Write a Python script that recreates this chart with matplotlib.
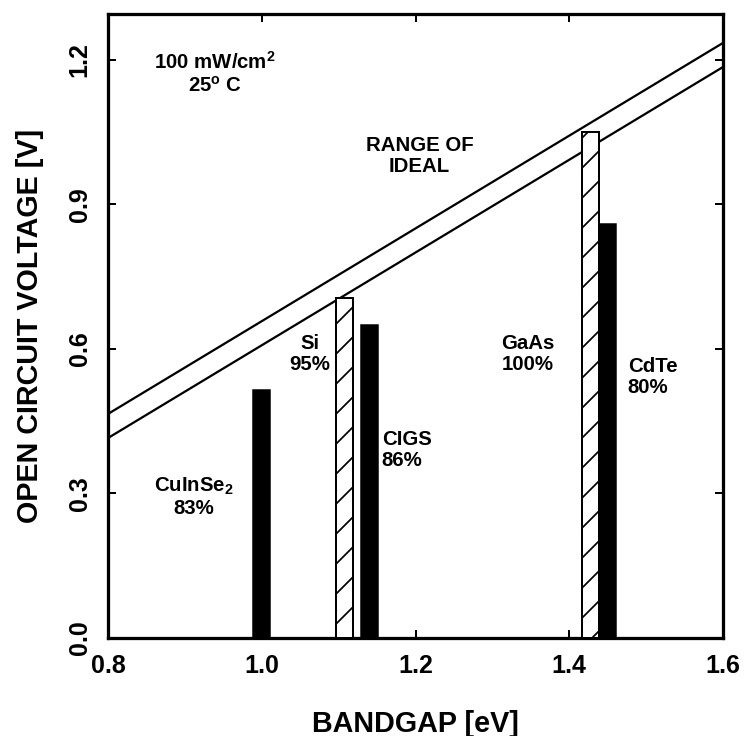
import matplotlib
matplotlib.use("Agg")
import matplotlib.pyplot as plt

# Measured open-circuit voltages of thin-film / crystalline cells
solid_names = ["CuInSe$_\\mathbf{2}$", "CIGS", "CdTe"]
solid_pct = ["83%", "86%", "80%"]
solid_gap = [1.00, 1.14, 1.45]
solid_voc = [0.515, 0.65, 0.86]

hatch_names = ["Si", "GaAs"]
hatch_pct = ["95%", "100%"]
hatch_gap = [1.108, 1.428]
hatch_voc = [0.705, 1.05]

# Ideal Voc range (upper and lower bounds), end points at 0.8 and 1.6 eV
ideal_gap = [0.8, 1.6]
ideal_upper = [0.465, 1.235]
ideal_lower = [0.415, 1.185]

x_ticks = [0.8, 1.0, 1.2, 1.4, 1.6]
y_ticks = [0.0, 0.3, 0.6, 0.9, 1.2]

plt.rcParams["font.family"] = ["Liberation Sans", "DejaVu Sans"]
plt.rcParams["font.weight"] = "bold"
plt.rcParams["mathtext.fontset"] = "custom"
plt.rcParams["mathtext.rm"] = "Liberation Sans:bold"
plt.rcParams["mathtext.bf"] = "Liberation Sans:bold"
plt.rcParams["mathtext.it"] = "Liberation Sans:bold"
plt.rcParams["hatch.linewidth"] = 1.4

DPI = 90
fig = plt.figure(figsize=(745 / DPI, 736 / DPI), dpi=DPI)
ax = fig.add_axes([108 / 745, 1 - 638 / 736, (723 - 108) / 745, (638 - 14) / 736])

bar_w = 0.022
ax.bar(solid_gap, solid_voc, width=bar_w, color="black", edgecolor="black",
       linewidth=1.2, zorder=3)
ax.bar(hatch_gap, hatch_voc, width=bar_w, color="white", edgecolor="black",
       hatch="/", linewidth=1.6, zorder=3)

ax.plot(ideal_gap, ideal_upper, color="black", lw=1.8, zorder=2)
ax.plot(ideal_gap, ideal_lower, color="black", lw=1.8, zorder=2)

ax.set_xlim(0.8, 1.6)
ax.set_ylim(0.0, 1.295)
ax.set_xticks(x_ticks)
ax.set_yticks(y_ticks)
ax.set_xticklabels([f"{v:.1f}" for v in x_ticks], fontsize=20, fontweight="bold")
ax.set_yticklabels([f"{v:.1f}" for v in y_ticks], fontsize=20, fontweight="bold",
                   rotation=90, va="center")
ax.tick_params(direction="in", length=6.5, width=1.6, top=True, right=True, pad=13)

for s in ax.spines.values():
    s.set_linewidth(2.6)

ax.set_xlabel("BANDGAP [eV]", fontsize=23, fontweight="bold", labelpad=25)
ax.set_ylabel("OPEN CIRCUIT VOLTAGE [V]", fontsize=23, fontweight="bold", labelpad=19)

fs = 16.3
ax.text(0.939, 1.196, "100 mW/cm$^\\mathbf{2}$", fontsize=fs, ha="center", va="center")
ax.text(0.939, 1.146, "25$^\\mathbf{o}$ C", fontsize=fs, ha="center", va="center")
ax.text(1.205, 1.0, "RANGE OF\nIDEAL", fontsize=fs, ha="center", va="center",
        linespacing=1.15)

# Labels beside the bars
ax.text(0.912, 0.293, solid_names[0] + "\n" + solid_pct[0], fontsize=fs,
        ha="center", va="center", linespacing=1.15)
ax.text(1.156, 0.39, solid_names[1] + "\n" + solid_pct[1], fontsize=fs,
        ha="left", va="center", linespacing=1.15)
ax.text(1.476, 0.542, solid_names[2] + "\n" + solid_pct[2], fontsize=fs,
        ha="left", va="center", linespacing=1.15)
ax.text(1.063, 0.59, hatch_names[0] + "\n" + hatch_pct[0], fontsize=fs,
        ha="center", va="center", linespacing=1.15)
ax.text(1.346, 0.59, hatch_names[1] + "\n" + hatch_pct[1], fontsize=fs,
        ha="center", va="center", linespacing=1.15)

fig.savefig("out.png", dpi=DPI)
